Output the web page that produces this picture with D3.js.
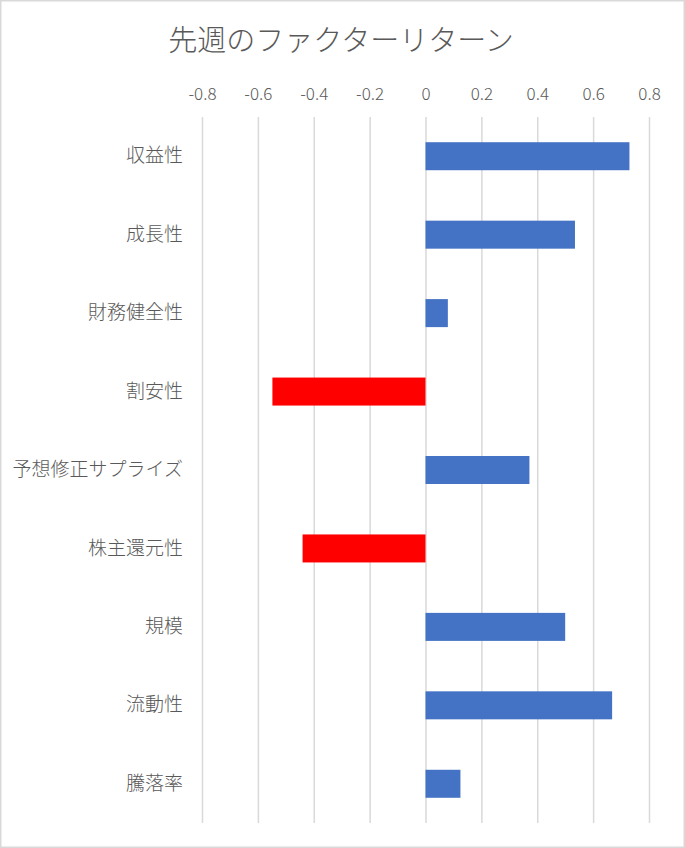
<!DOCTYPE html>
<html>
<head>
<meta charset="utf-8">
<script src="https://cdn.jsdelivr.net/npm/d3@7"></script>
<style>
  body { margin: 0; background: #fff; }
  svg text { font-family: "Noto Sans CJK JP", "Noto Sans", sans-serif; font-weight: 300; fill: #595959; }
</style>
</head>
<body>
<svg id="chart" width="685" height="848"></svg>
<script>
// factor returns, last week
const categories = ["収益性", "成長性", "財務健全性", "割安性", "予想修正サプライズ", "株主還元性", "規模", "流動性", "騰落率"];
const values = [0.73, 0.535, 0.08, -0.548, 0.372, -0.44, 0.5, 0.668, 0.125];
const tickValues = [-0.8, -0.6, -0.4, -0.2, 0, 0.2, 0.4, 0.6, 0.8];
const tickLabels = ["-0.8", "-0.6", "-0.4", "-0.2", "0", "0.2", "0.4", "0.6", "0.8"];
const title = "先週のファクターリターン";

const width = 685, height = 848;
const plot = { left: 202, right: 649, top: 117, bottom: 823 };

const svg = d3.select("#chart");

// chart border
svg.append("rect")
    .attr("x", 0.75).attr("y", 0.75)
    .attr("width", width - 1.5).attr("height", height - 1.5)
    .attr("fill", "#fff")
    .attr("stroke", "#d9d9d9")
    .attr("stroke-width", 1.5);

const x = d3.scaleLinear().domain([-0.8, 0.8]).range([plot.left, plot.right]);
const y = d3.scaleBand()
    .domain(categories)
    .range([plot.top, plot.bottom])
    .paddingInner(0.643)
    .paddingOuter(0.3215);

// gridlines
const grid = svg.append("g")
    .attr("transform", "translate(0," + plot.top + ")")
    .call(d3.axisBottom(x).tickValues(tickValues).tickSize(plot.bottom - plot.top).tickFormat(""));
grid.select(".domain").remove();
grid.selectAll("line").attr("stroke", "#d9d9d9").attr("stroke-width", 1.5);

// top tick labels
const xAxis = svg.append("g")
    .attr("transform", "translate(0," + plot.top + ")")
    .call(d3.axisTop(x).tickValues(tickValues).tickSize(0).tickPadding(17)
        .tickFormat((d, i) => tickLabels[i]));
xAxis.select(".domain").remove();
xAxis.selectAll("text").attr("font-size", 17).style("fill", "#595959");

// category labels
const yAxis = svg.append("g")
    .attr("transform", "translate(183,0)")
    .call(d3.axisLeft(y).tickSize(0).tickPadding(0));
yAxis.select(".domain").remove();
yAxis.selectAll("text").attr("font-size", 19).style("fill", "#595959");

// bars
svg.append("g")
    .selectAll("rect")
    .data(categories)
    .join("rect")
        .attr("x", (d, i) => x(Math.min(0, values[i])))
        .attr("y", d => y(d))
        .attr("width", (d, i) => Math.abs(x(values[i]) - x(0)))
        .attr("height", y.bandwidth())
        .attr("fill", (d, i) => values[i] < 0 ? "#ff0000" : "#4472c4");

// title
svg.append("text")
    .attr("x", 341)
    .attr("y", 51)
    .attr("text-anchor", "middle")
    .attr("font-size", 29)
    .text(title);
</script>
</body>
</html>
